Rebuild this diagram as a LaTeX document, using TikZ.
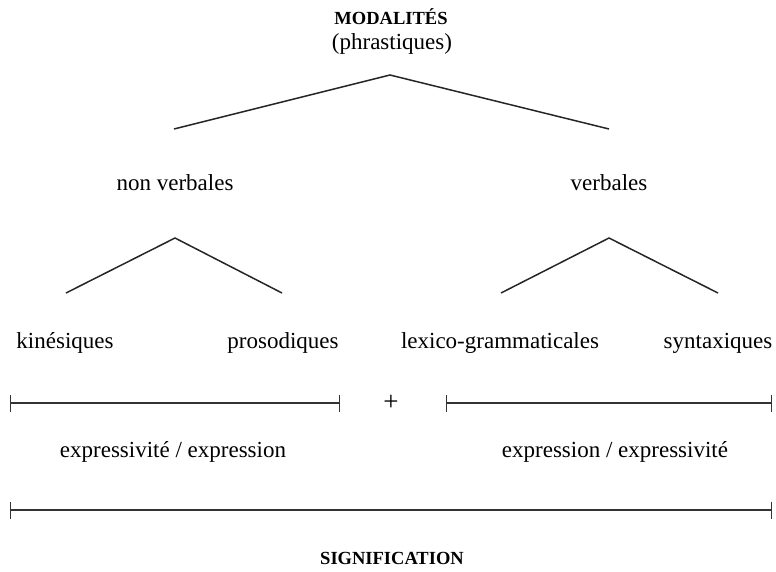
\documentclass[tikz,border=0pt]{standalone}
\usepackage{fontspec}
\setmainfont{Liberation Serif}
\usetikzlibrary{arrows.meta}
\begin{document}
\begin{tikzpicture}[x=1pt,y=-1pt,
  lbl/.style={inner sep=0pt,text height=16pt,text depth=5pt,yshift=-2pt,font=\fontsize{23}{26}\selectfont},
  ttl/.style={inner sep=0pt,anchor=base,font=\fontsize{18.5}{22}\selectfont\bfseries},
  branch/.style={line width=1.5pt,black!85},
  span/.style={line width=1.6pt,black!80,{Bar[width=17pt,line width=1.4pt]}-{Bar[width=17pt,line width=1.4pt]}}]
\useasboundingbox (0,0) rectangle (776,571);
% titles
\node[ttl] (mod) at (391,24) {MODALITÉS};
\node[lbl] (phr) at (392,42) {(phrastiques)};
% top branching
\coordinate (top) at (390,75);
\coordinate (tl) at (174,129);
\coordinate (tr) at (609,129);
\draw[branch] (tl) -- (top) -- (tr);
\node[lbl] (nv) at (175,183) {non verbales};
\node[lbl] (vb) at (609,183) {verbales};
% left branching
\coordinate (la) at (175,238);
\coordinate (ll) at (66,293);
\coordinate (lr) at (282,293);
\draw[branch] (ll) -- (la) -- (lr);
% right branching
\coordinate (ra) at (609,238);
\coordinate (rl) at (501,293);
\coordinate (rr) at (718,293);
\draw[branch] (rl) -- (ra) -- (rr);
% leaves
\node[lbl] (kin) at (65,341) {kinésiques};
\node[lbl] (pro) at (283,341) {prosodiques};
\node[lbl] (lex) at (500,341) {lexico-grammaticales};
\node[lbl] (syn) at (718,341) {syntaxiques};
% spans
\coordinate (s1a) at (10,403);
\coordinate (s1b) at (340,403);
\coordinate (s2a) at (446,403);
\coordinate (s2b) at (772,403);
\draw[span] (s1a) -- (s1b);
\draw[span] (s2a) -- (s2b);
\node[lbl,font=\fontsize{27}{30}\selectfont] (plus) at (391,403) {+};
\node[lbl] (ee1) at (173,450) {expressivité / expression};
\node[lbl] (ee2) at (615,450) {expression / expressivité};
\coordinate (s3a) at (10,510);
\coordinate (s3b) at (772,510);
\draw[span] (s3a) -- (s3b);
\node[ttl] (sig) at (392,564) {SIGNIFICATION};
\end{tikzpicture}
\end{document}
